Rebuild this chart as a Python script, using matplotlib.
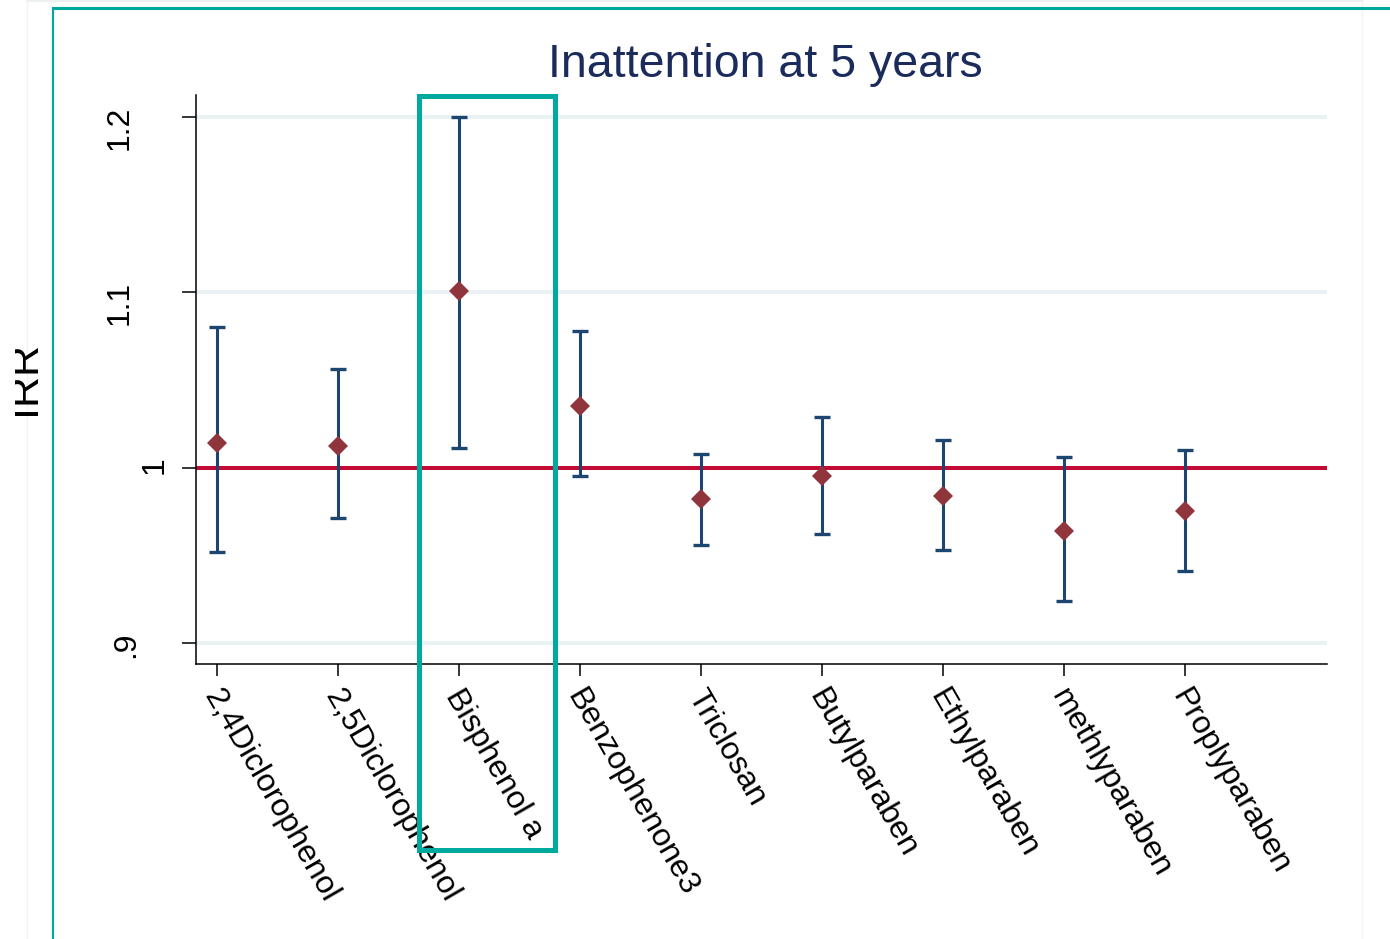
import matplotlib
matplotlib.use("Agg")
import matplotlib.pyplot as plt
from matplotlib.patches import Rectangle
from matplotlib.lines import Line2D
from matplotlib.transforms import ScaledTranslation, Bbox
import numpy as np

plt.rcParams['font.family'] = ['Liberation Sans', 'DejaVu Sans']

categories = ["2,4Diclorophenol", "2,5Diclorophenol", "Bisphenol a", "Benzophenone3",
              "Triclosan", "Butylparaben", "Ethylparaben", "methlyparaben", "Proplyparaben"]
irr = [1.014, 1.0125, 1.101, 1.035, 0.982, 0.995, 0.984, 0.964, 0.975]
ci_low = [0.952, 0.971, 1.011, 0.995, 0.956, 0.962, 0.953, 0.924, 0.941]
ci_high = [1.080, 1.056, 1.200, 1.078, 1.008, 1.029, 1.016, 1.006, 1.010]
yticks = [0.9, 1.0, 1.1, 1.2]
ytick_labels = [".9", "1", "1.1", "1.2"]
title = "Inattention at 5 years"
ylabel = "IRR"
highlight = "Bisphenol a"

W, H, DPI = 1390, 939, 100
fig = plt.figure(figsize=(W / DPI, H / DPI), dpi=DPI)
fig.patch.set_facecolor("white")

def fx(px):
    return px / W

def fy(py):
    return 1 - py / H

ax = fig.add_axes([fx(196), fy(664), fx(1327) - fx(196), fy(95) - fy(664)])
x = np.arange(1, len(categories) + 1)

ax.set_xlim(0.826, 10.17)
ax.set_ylim(0.888, 1.2125)

for yt in yticks:
    ax.axhline(yt, color="#eaf1f3", lw=2.9, zorder=0)
ax.axhline(1.0, color="#c20a35", lw=2.9, zorder=1)

irr_a = np.array(irr)
err = [irr_a - np.array(ci_low), np.array(ci_high) - irr_a]
ax.errorbar(x, irr_a, yerr=err, fmt="none", ecolor="#1c4670", elinewidth=2.2,
            capsize=5.5, capthick=2.4, zorder=2)
ax.plot(x, irr_a, linestyle="none", marker="D", markersize=10,
        color="#8f353b", markeredgewidth=0, zorder=3)

for s in ["top", "right"]:
    ax.spines[s].set_visible(False)
for s in ["left", "bottom"]:
    ax.spines[s].set_linewidth(1.1)
    ax.spines[s].set_color("black")

ax.set_yticks(yticks)
ax.set_yticklabels(ytick_labels)
ax.tick_params(axis="y", length=10, width=1.1, labelsize=23, labelrotation=90, pad=34)
ax.set_xticks(x)
ax.set_xticklabels(categories, rotation=-60, ha="left", va="top", rotation_mode="anchor")
ax.tick_params(axis="x", length=8.5, width=1.1, labelsize=23, pad=6)

# individual y label offsets as in reference
offsets = {"1": 35, ".9": 6}
for lab in ax.get_yticklabels():
    t = lab.get_text()
    if t in offsets:
        lab.set_transform(lab.get_transform() + ScaledTranslation(offsets[t] / DPI, 0, fig.dpi_scale_trans))
for lab in ax.get_xticklabels():
    lab.set_transform(lab.get_transform() + ScaledTranslation(6 / DPI, 0, fig.dpi_scale_trans))

# highlight rectangle around Bisphenol a
i = categories.index(highlight) + 1
rect = Rectangle((i - 0.33, 0.7818), 1.12, 1.212 - 0.7818, fill=False,
                 edgecolor="#00a99d", lw=3.6, clip_on=False, zorder=5)
ax.add_patch(rect)

fig.text(fx(765), fy(65), title, ha="center", va="center", fontsize=33.5, color="#1a2b5c")

ylab = fig.text(fx(24), fy(378), ylabel, ha="center", va="center", rotation=90,
                fontsize=31, color="black")
ylab.set_clip_box(Bbox.from_extents(15, 0, W, H))
ylab.set_clip_on(True)

# outer frame lines
fig.add_artist(Line2D([fx(27), fx(27)], [0, 1], color="#f2f4f5", lw=1))
fig.add_artist(Line2D([fx(1362), fx(1362)], [0, 1], color="#f2f4f5", lw=1))
fig.add_artist(Line2D([fx(27), fx(1362)], [fy(0.5), fy(0.5)], color="#eef1f2", lw=1.5))
fig.add_artist(Line2D([fx(53), fx(53)], [0, fy(8)], color="#00a99d", lw=1.5))
fig.add_artist(Line2D([fx(53), 1], [fy(8), fy(8)], color="#00a99d", lw=2.2))

fig.savefig("out.png", dpi=DPI)
